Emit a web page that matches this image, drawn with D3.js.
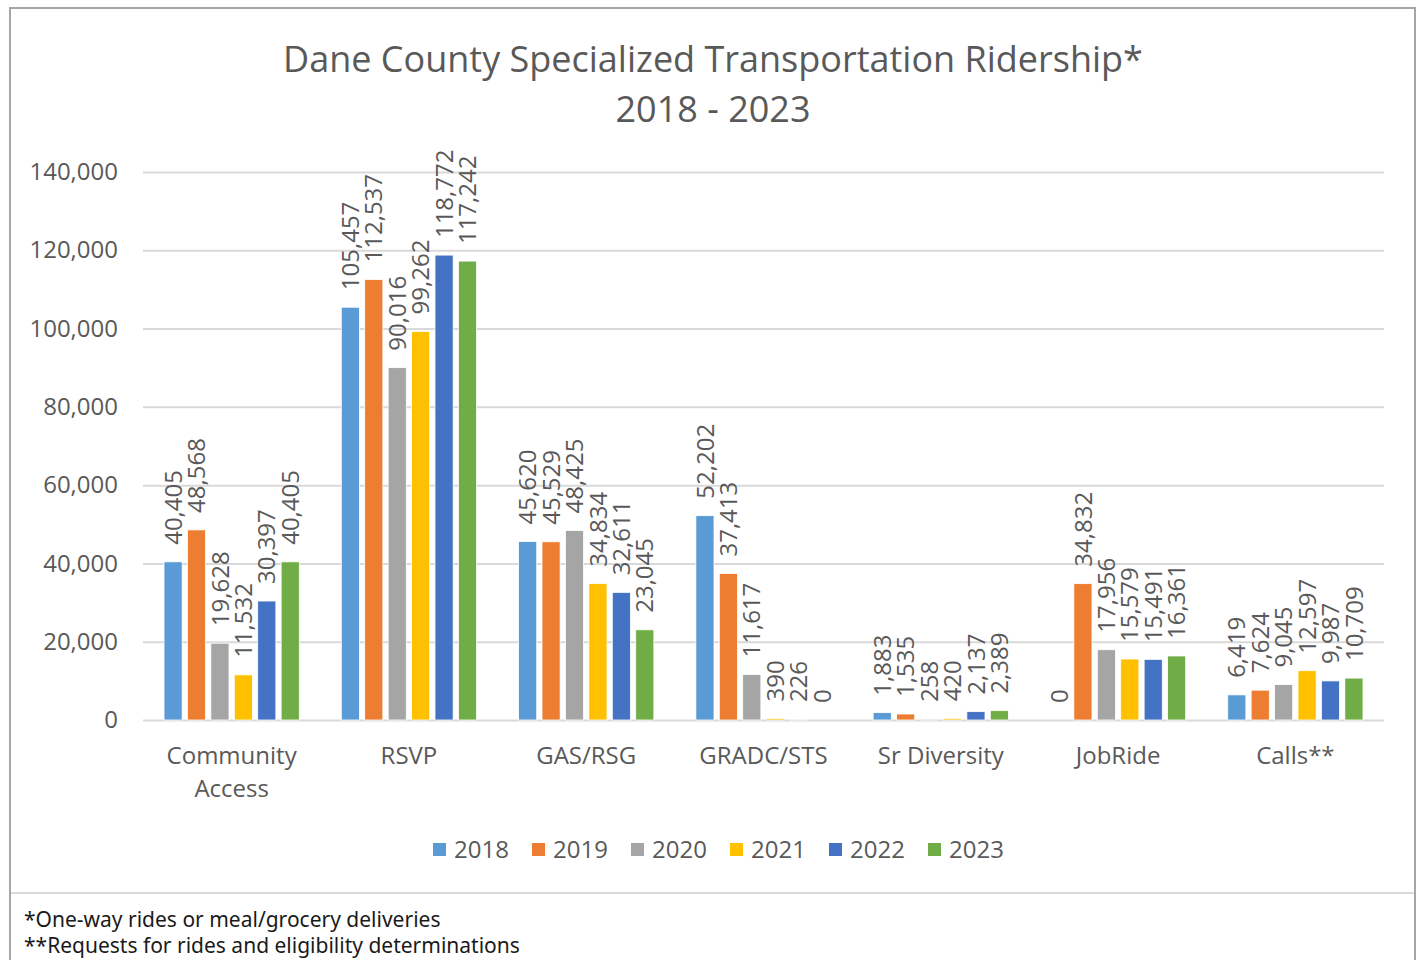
<!DOCTYPE html>
<html lang="en">
<head>
    <meta charset="UTF-8">
    <title>Dane County Specialized Transportation Ridership</title>
    <style>
        body { margin: 0; background: #fff; }
        svg { display: block; }
        .chart text { font-family: "Open Sans", sans-serif; fill: #595959; }
        .axis path { display: none; }
        .axis line { stroke: #d9d9d9; stroke-width: 2; }
        .footer text { font-family: "Noto Sans", sans-serif; fill: #1a1a1a; font-size: 21px; }
    </style>
</head>
<body>
    <svg width="1420" height="960"></svg>
    <script src="https://cdn.jsdelivr.net/npm/d3@7"></script>
    <script>
        // categories and years
        var categories = ["Community Access", "RSVP", "GAS/RSG", "GRADC/STS", "Sr Diversity", "JobRide", "Calls**"];
        var years = ["2018", "2019", "2020", "2021", "2022", "2023"];

        // one array per year, same order as categories
        var y2018 = [40405, 105457, 45620, 52202, 1883, 0, 6419];
        var y2019 = [48568, 112537, 45529, 37413, 1535, 34832, 7624];
        var y2020 = [19628, 90016, 48425, 11617, 258, 17956, 9045];
        var y2021 = [11532, 99262, 34834, 390, 420, 15579, 12597];
        var y2022 = [30397, 118772, 32611, 226, 2137, 15491, 9987];
        var y2023 = [40405, 117242, 23045, 0, 2389, 16361, 10709];

        var yTicks = [0, 20000, 40000, 60000, 80000, 100000, 120000, 140000];
        var colors = ["#5b9bd5", "#ed7d31", "#a5a5a5", "#ffc000", "#4472c4", "#70ad47"];

        var series = [y2018, y2019, y2020, y2021, y2022, y2023];

        var svg = d3.select("svg");

        // outer frame + footer separator
        svg.append("rect")
            .attr("x", 10).attr("y", 8)
            .attr("width", 1405).attr("height", 980)
            .attr("fill", "none")
            .attr("stroke", "#a6a6a6")
            .attr("stroke-width", 2);
        svg.append("line")
            .attr("x1", 11).attr("x2", 1414)
            .attr("y1", 893).attr("y2", 893)
            .attr("stroke", "#d9d9d9").attr("stroke-width", 2);

        var margin = {top: 172, left: 143},
            width = 1384 - 143,
            height = 720 - 172,
            chart = svg.append("g").attr("class", "chart"),
            g = chart.append("g").attr("transform", "translate(" + margin.left + "," + margin.top + ")");

        // title
        chart.append("text")
            .attr("x", 713).attr("y", 72)
            .attr("text-anchor", "middle")
            .style("font-size", "36px")
            .text("Dane County Specialized Transportation Ridership*");
        chart.append("text")
            .attr("x", 713).attr("y", 122)
            .attr("text-anchor", "middle")
            .style("font-size", "36px")
            .text("2018 - 2023");

        var x0 = d3.scaleBand()
            .domain(categories)
            .range([0, width]);

        var x1 = d3.scaleBand()
            .domain(years)
            .range([21, x0.bandwidth() - 21])
            .paddingInner(0.225);

        var y = d3.scaleLinear()
            .domain([0, 140000])
            .range([height, 0]);

        var fmt = d3.format(",");

        // gridlines + y labels
        g.append("g")
            .attr("class", "axis axis--y")
            .call(d3.axisLeft(y).tickValues(yTicks).tickSize(-width).tickPadding(25).tickFormat(fmt))
            .selectAll("text")
            .style("font-size", "24px")
            .attr("fill", "#595959");

        // rows: one object per category
        var rows = categories.map(function(c, i) {
            return {cat: c, vals: years.map(function(yr, j) { return {year: yr, value: series[j][i]}; })};
        });

        var group = g.selectAll(".grp")
            .data(rows)
            .enter().append("g")
            .attr("class", "grp")
            .attr("transform", function(d) { return "translate(" + x0(d.cat) + ",0)"; });

        group.selectAll("rect")
            .data(function(d) { return d.vals; })
            .enter().append("rect")
            .attr("x", function(d) { return x1(d.year); })
            .attr("y", function(d) { return y(d.value); })
            .attr("width", x1.bandwidth())
            .attr("height", function(d) { return y(0) - y(d.value); })
            .attr("fill", function(d, i) { return colors[i]; })
            .attr("stroke", "#fff")
            .attr("stroke-width", 0.8);

        // rotated value labels
        group.selectAll(".lbl")
            .data(function(d) { return d.vals; })
            .enter().append("text")
            .attr("class", "lbl")
            .attr("transform", function(d) {
                return "translate(" + (x1(d.year) + x1.bandwidth() / 2) + "," + (y(d.value) - 17) + ") rotate(-90)";
            })
            .attr("dy", "0.36em")
            .style("font-size", "24px")
            .text(function(d) { return fmt(d.value); });

        // category labels (wrap Community Access)
        var catLabel = g.selectAll(".cat")
            .data(categories)
            .enter().append("text")
            .attr("class", "cat")
            .attr("text-anchor", "middle")
            .attr("x", function(d) { return x0(d) + x0.bandwidth() / 2; })
            .attr("y", height + 44)
            .style("font-size", "24px");
        catLabel.each(function(d) {
            var words = d === "Community Access" ? ["Community", "Access"] : [d];
            var t = d3.select(this);
            words.forEach(function(w, i) {
                t.append("tspan")
                    .attr("x", x0(d) + x0.bandwidth() / 2)
                    .attr("dy", i === 0 ? 0 : 33)
                    .text(w);
            });
        });

        // legend
        var legend = chart.append("g")
            .attr("transform", "translate(433,843)");
        var item = legend.selectAll(".leg")
            .data(years)
            .enter().append("g")
            .attr("transform", function(d, i) { return "translate(" + (i * 99) + ",0)"; });
        item.append("rect")
            .attr("width", 13).attr("height", 13)
            .attr("fill", function(d, i) { return colors[i]; });
        item.append("text")
            .attr("x", 21).attr("y", 15)
            .style("font-size", "24px")
            .text(function(d) { return d; });

        // footnotes
        var foot = svg.append("g").attr("class", "footer");
        foot.append("text").attr("x", 24).attr("y", 927).text("*One-way rides or meal/grocery deliveries");
        foot.append("text").attr("x", 24).attr("y", 953).text("**Requests for rides and eligibility determinations");
    </script>
</body>
</html>
